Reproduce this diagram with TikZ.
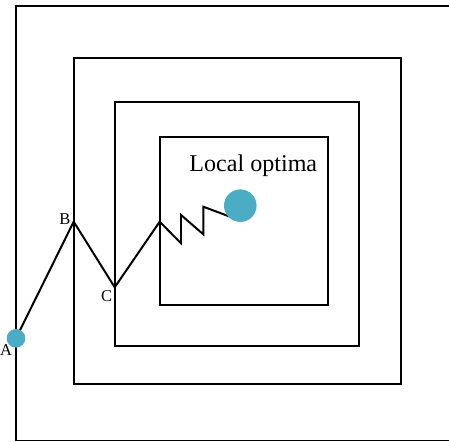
\documentclass[tikz,border=0pt]{standalone}
\usepackage{fontspec}
\setmainfont{Liberation Serif}
\usepackage{xcolor}
\definecolor{optcol}{HTML}{4BACC6}

\begin{document}
\begin{tikzpicture}[x=0.02cm,y=0.02cm,line width=1.13pt,
    ring/.style={draw=black},
    dot/.style={circle,fill=optcol,inner sep=0pt},
    lbl/.style={font=\fontsize{9.4}{10}\selectfont,inner sep=0pt}]
                \useasboundingbox (0,0) rectangle (449,442);
                % nested search regions
                \draw[ring] (470,435.5) -- (16,435.5) -- (16,1.5) -- (470,1.5);
                \draw[ring] (74,384) rectangle (400.7,58.3);
                \draw[ring] (114.7,340) rectangle (359.3,95.7);
                \draw[ring] (159.7,304.7) rectangle (328.3,136.7);
                % search path
                \coordinate (a) at (16,103.7);
                \coordinate (b) at (73.7,220.3);
                \coordinate (c) at (114.7,154.7);
                \coordinate (d) at (159.7,220.3);
                \coordinate (z1) at (181,198.7);
                \coordinate (z2) at (181,227);
                \coordinate (z3) at (203.3,207.7);
                \coordinate (z4) at (203.3,235.3);
                \coordinate (e) at (230,225.3);
                \draw[line join=miter] (a) -- (b) -- (c) -- (d) -- (z1) -- (z2) -- (z3) -- (z4) -- (e);
                \node[dot,minimum size=0.373cm] (start) at (a) {};
                \node[dot,minimum size=0.652cm] (opt) at (240.3,236.3) {};
                \node[lbl] (la) at (6,92) {A};
                \node[lbl] (lb) at (65,223) {B};
                \node[lbl] (lc) at (106.7,146) {C};
                \node[font=\fontsize{13.7}{15}\selectfont,inner sep=0pt] (title) at (253.3,276) {Local optima};
            \end{tikzpicture}
\end{document}
